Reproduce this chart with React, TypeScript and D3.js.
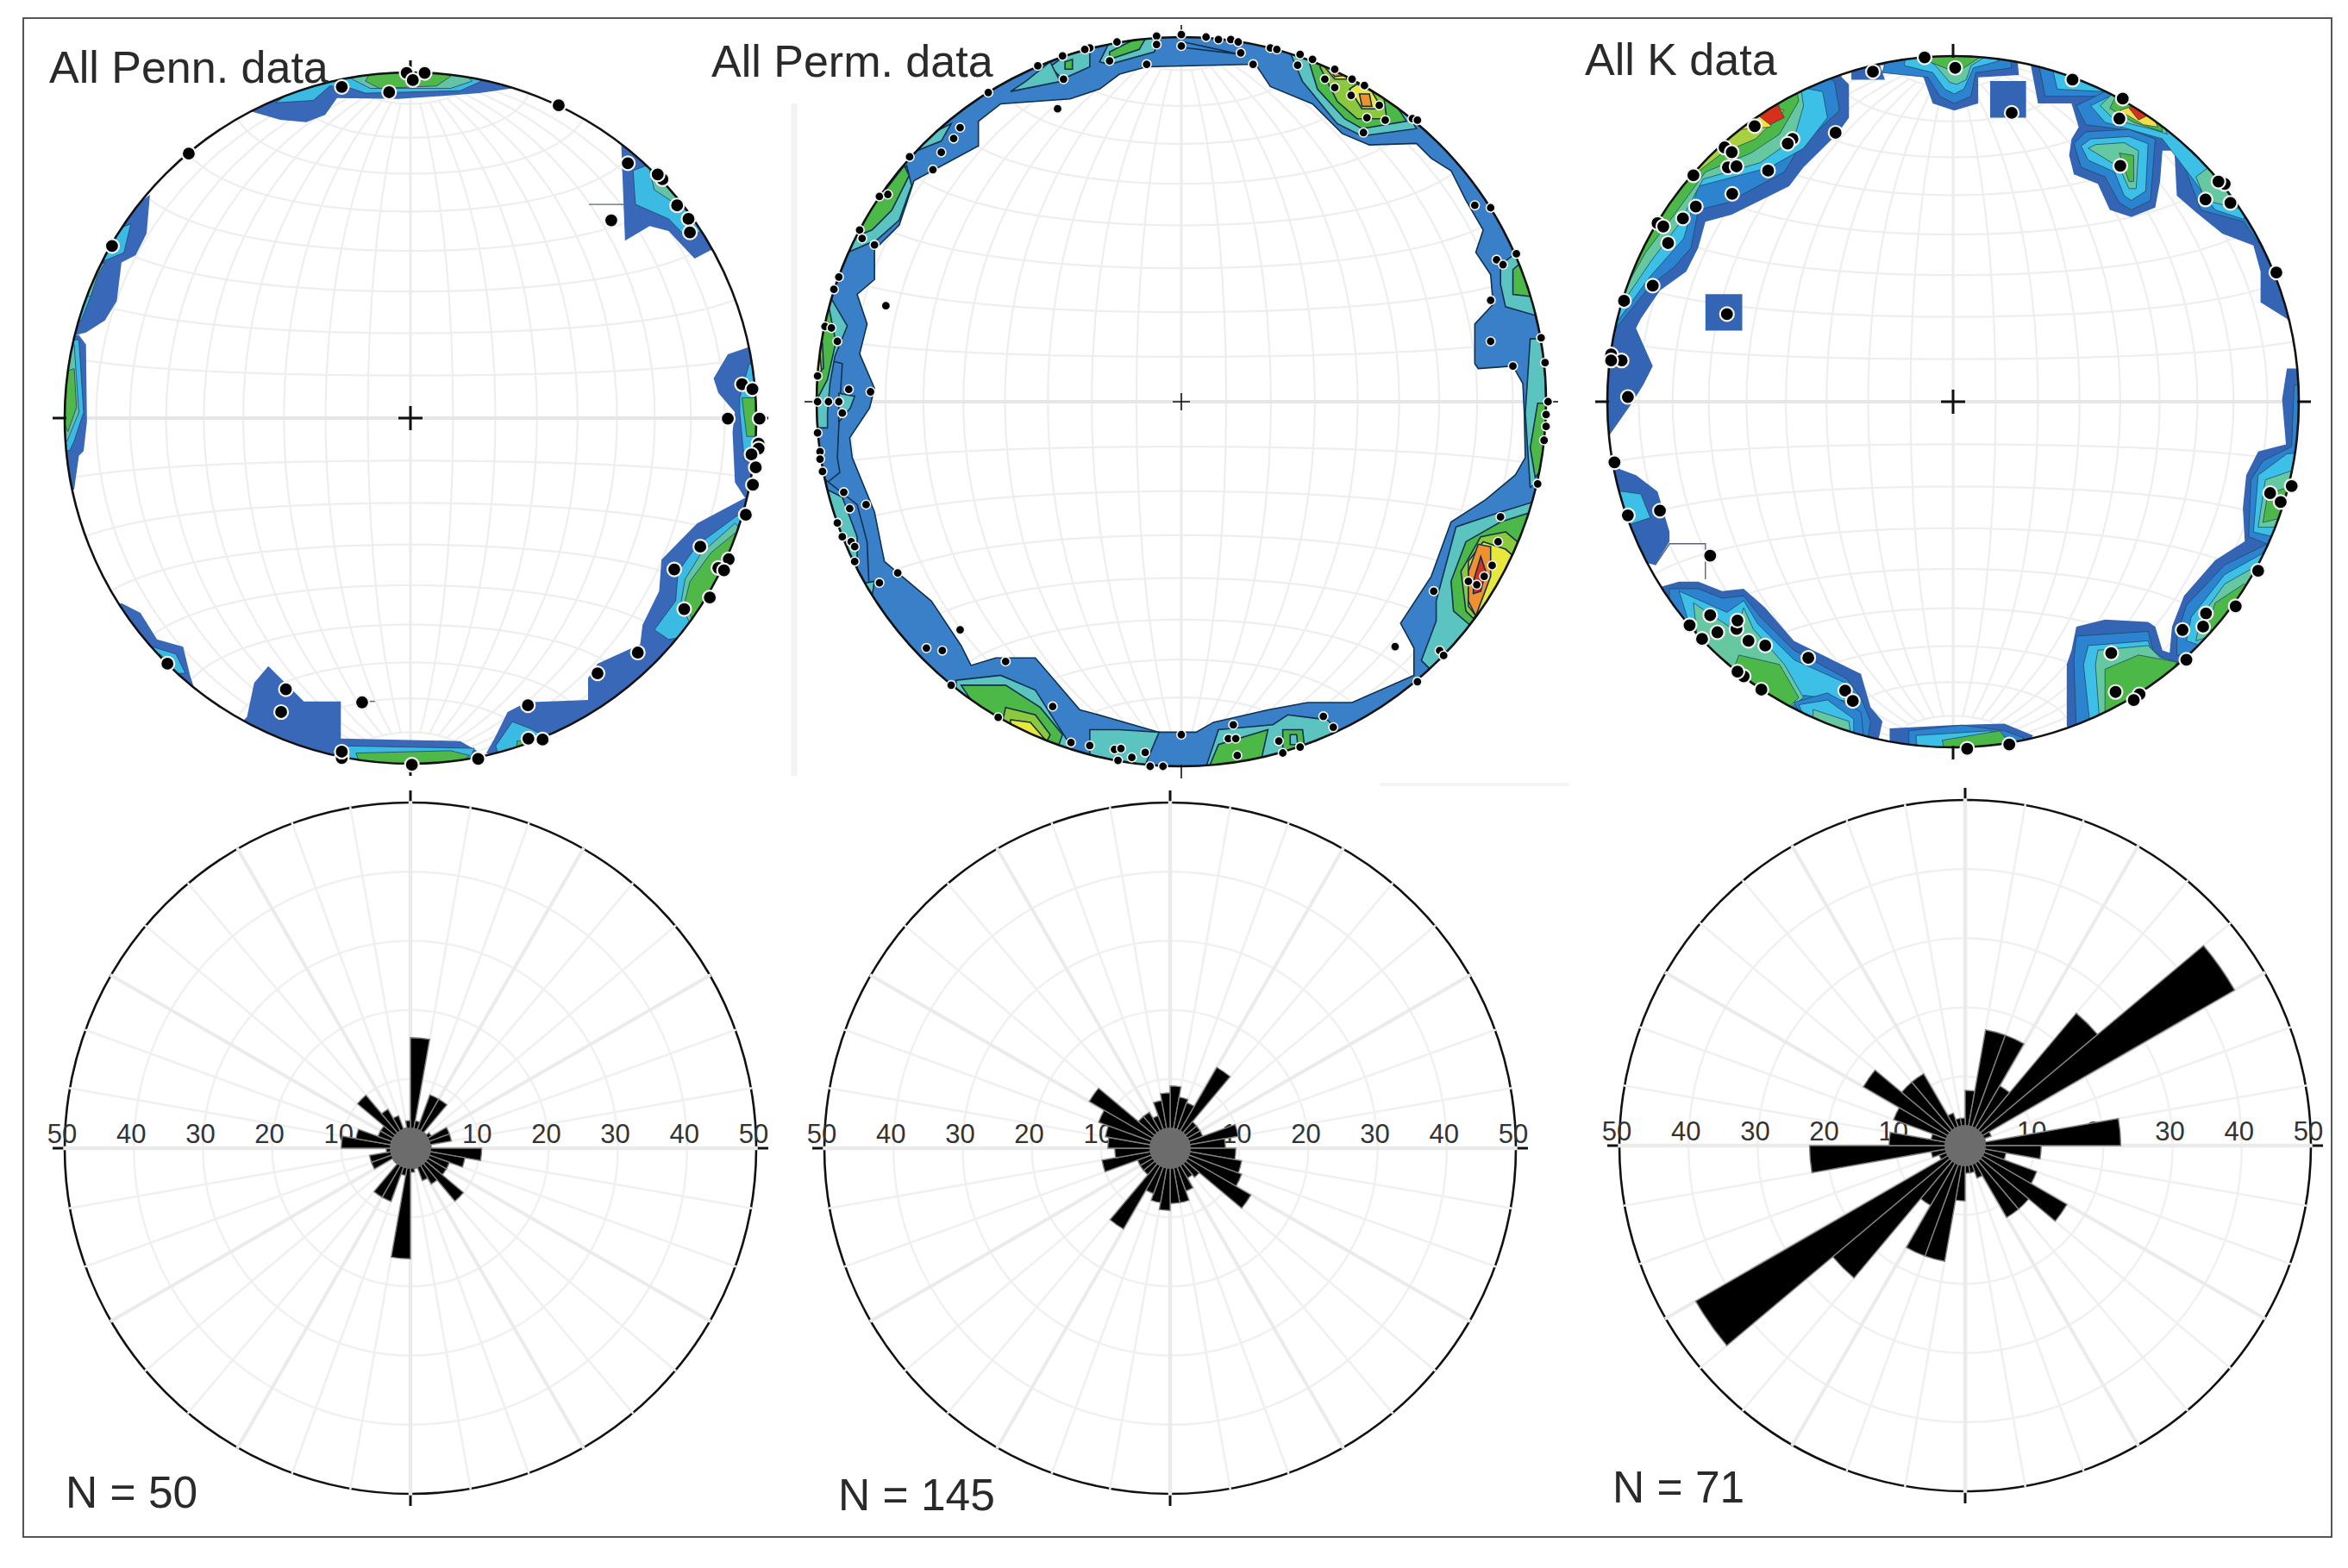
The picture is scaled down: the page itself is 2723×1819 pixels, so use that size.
import React from "react";
import * as d3 from "d3";

type Pt = [number, number];
type Contour = [number, Pt[]];

// ---------- Rose diagrams: percent per 10 degree bin, azimuth 0..350 ----------
const binAzimuths = d3.range(0, 360, 10);
const rosePenn = [16, 4, 8.2, 8.2, 3, 3.5, 6, 6, 3, 10.3, 8, 6, 6, 10, 6, 5, 3, 3.5, 16, 4, 8.2, 8.2, 3, 3, 6, 6, 3.5, 10, 8, 5, 5, 10, 6.5, 5, 3, 4];
const rosePerm = [9, 7.5, 7, 13.5, 5, 5, 5, 10, 8, 9.5, 10.5, 11, 13.5, 5.5, 5, 6.6, 8, 8, 9, 8, 7, 13.5, 5, 5, 5, 10, 8, 9, 9.5, 11, 13.5, 6, 6, 5, 7, 8];
const roseK = [8, 17, 17, 10, 25, 45, 4, 3, 22.5, 11, 6, 11, 17, 12, 12, 5, 4, 4, 8, 17, 17, 10, 25, 45, 4, 5, 22.5, 11, 5, 11, 17, 12, 12, 5, 4, 4];
const roseTicks = [10, 20, 30, 40, 50];

// ---------- Stereonet poles, digitised in net units ----------
const polesPenn: Pt[] = [[787,98],[825,98],[800,113],[750,138],[650,127],[1108,165],[327,265],[1254,285],[1327,318],[1317,308],[1358,372],[1382,400],[1385,428],[1219,403],[165,456],[1495,742],[1517,752],[1465,813],[1532,813],[1530,865],[1530,875],[1515,887],[1524,914],[1518,950],[1503,1012],[1407,1078],[1352,1125],[1467,1104],[1445,1122],[1457,1127],[1427,1183],[1373,1207],[1275,1297],[1190,1340],[1043,1406],[1044,1475],[1074,1477],[938,1517],[798,1529],[650,1515],[650,1502],[693,1400],[532,1373],[522,1420],[282,1320]];
const polesPerm: Pt[] = [[785,35],[785,58],[735,38],[735,55],[835,40],[860,45],[885,45],[900,50],[905,72],[965,62],[978,65],[655,50],[640,88],[715,95],[600,62],[590,65],[545,78],[495,98],[547,125],[395,152],[535,185],[930,95],[1025,75],[1020,97],[1050,85],[1075,125],[1095,105],[1095,142],[1130,125],[1155,138],[1128,158],[1185,178],[1160,203],[1197,208],[1153,233],[1252,205],[1262,208],[338,223],[325,245],[300,273],[236,282],[283,308],[175,362],[192,358],[135,430],[140,447],[165,460],[93,525],[83,550],[188,583],[65,625],[78,628],[90,655],[50,725],[113,752],[157,757],[50,777],[72,777],[93,777],[100,800],[50,840],[55,878],[55,893],[60,918],[103,960],[115,993],[148,985],[90,1022],[100,1050],[118,1060],[125,1070],[125,1100],[175,1143],[212,1123],[338,1238],[270,1275],[302,1280],[320,1350],[430,1302],[525,1393],[415,1415],[562,1466],[600,1472],[650,1480],[663,1478],[657,1502],[685,1496],[712,1486],[722,1514],[748,1514],[785,1450],[880,1458],[895,1458],[890,1430],[898,1492],[982,1463],[990,1487],[1025,1475],[1072,1413],[1092,1435],[1217,1272],[1262,1343],[1307,1280],[1315,1290],[1295,1160],[1365,1140],[1382,1147],[1397,1130],[1413,1108],[1425,1060],[1430,1010],[1505,943],[1518,855],[1522,827],[1522,803],[1526,777],[1455,705],[1410,655],[1520,698],[1512,648],[1410,572],[1462,478],[1422,490],[1435,500],[1410,385],[1378,380]];
const polesK: Pt[] = [[723,68],[787,90],[615,98],[1032,115],[1137,155],[1130,197],[905,185],[1132,297],[537,227],[368,213],[447,240],[437,250],[305,258],[320,268],[312,300],[330,298],[396,307],[240,317],[321,356],[245,383],[218,408],[165,418],[177,425],[187,460],[155,550],[95,582],[68,695],[90,708],[68,708],[103,785],[310,610],[1350,335],[1337,330],[1310,368],[1362,375],[1458,522],[75,923],[170,1025],[103,1035],[275,1120],[1420,1152],[1373,1227],[1311,1242],[1490,973],[1445,988],[1467,1007],[1305,1270],[1262,1277],[1270,1340],[1113,1326],[1122,1408],[1172,1413],[1160,1425],[812,1528],[900,1519],[275,1246],[232,1267],[258,1296],[290,1282],[330,1275],[332,1257],[355,1300],[390,1310],[480,1336],[345,1375],[332,1365],[382,1403],[557,1405],[573,1427]];

// ---------- Contour level colours ----------
const palettePenn = ["#3a68b8", "#3bbbe4", "#62c4a4", "#4fb848"];
const palettePerm = ["#3a80c8", "#5cc4c0", "#4cb848", "#8cc83c", "#e8e83c", "#f09030", "#d83020"];
const paletteK = ["#3464b4", "#2c84d0", "#3cc0e8", "#66c8a0", "#4cb848", "#a8d040", "#f0e040", "#f08030", "#d83018"];

// ---------- Contour rings, digitised in net units: [level, ring] ----------
const contoursPenn: Contour[] = [
  [0,[[460,178],[520,195],[575,200],[615,185],[640,150],[770,152],[830,148],[940,140],[1010,130],[950,70],[800,50],[650,70],[520,110]]],
  [1,[[510,160],[590,155],[625,125],[670,130],[700,140],[900,135],[945,115],[900,70],[700,70],[600,100]]],
  [2,[[670,110],[710,130],[880,130],[925,115],[880,70],[700,70]]],
  [3,[[700,115],[730,130],[850,125],[880,105],[800,70],[720,80]]],
  [0,[[1240,245],[1248,445],[1300,415],[1340,425],[1395,482],[1428,465],[1470,460],[1360,300],[1260,220]]],
  [1,[[1265,300],[1270,370],[1340,400],[1370,430],[1400,430],[1420,420],[1320,280]]],
  [2,[[1300,300],[1310,340],[1380,385],[1400,385],[1330,290]]],
  [0,[[245,350],[238,430],[215,475],[185,490],[175,570],[150,610],[110,635],[90,640],[50,640],[100,470],[190,390]]],
  [1,[[205,410],[190,470],[140,490],[120,560],[100,610],[70,600],[120,470],[180,420]]],
  [2,[[150,490],[135,515],[120,560],[100,560],[125,500]]],
  [0,[[95,640],[110,660],[112,820],[105,880],[95,890],[85,960],[40,960],[40,640]]],
  [1,[[95,650],[105,800],[85,860],[75,880],[40,870],[40,650]]],
  [2,[[85,660],[95,800],[70,860],[40,840],[40,700]]],
  [3,[[85,710],[90,790],[72,840],[50,800],[50,720]]],
  [0,[[1465,680],[1510,665],[1560,680],[1560,1000],[1500,975],[1480,945],[1475,840],[1480,800],[1445,760],[1435,730]]],
  [1,[[1510,700],[1490,770],[1490,800],[1500,900],[1560,900],[1560,700]]],
  [3,[[1495,770],[1505,850],[1560,850],[1560,770]]],
  [0,[[1505,975],[1400,1030],[1325,1105],[1320,1170],[1285,1240],[1280,1280],[1190,1320],[1170,1350],[1170,1395],[1040,1400],[1000,1420],[975,1470],[955,1505],[1050,1540],[1300,1400],[1560,1050]]],
  [1,[[1490,1010],[1400,1075],[1360,1130],[1355,1190],[1310,1250],[1340,1270],[1400,1260],[1560,1060]]],
  [2,[[1480,1030],[1410,1090],[1375,1145],[1365,1200],[1385,1235],[1560,1090]]],
  [3,[[1480,1050],[1430,1090],[1385,1150],[1375,1190],[1390,1230],[1560,1140]]],
  [1,[[975,1490],[1010,1440],[1050,1455],[1080,1470],[1050,1540],[990,1540]]],
  [3,[[1020,1480],[1050,1480],[1040,1540],[1020,1540]]],
  [0,[[495,1325],[570,1398],[648,1398],[648,1475],[900,1480],[935,1500],[900,1560],[700,1560],[430,1450],[450,1430],[465,1360]]],
  [1,[[650,1490],[930,1495],[900,1560],[660,1560]]],
  [3,[[680,1505],[880,1500],[920,1510],[860,1560],[700,1560]]],
  [0,[[185,1195],[225,1215],[260,1270],[315,1285],[330,1345],[340,1375],[260,1340],[150,1210]]],
  [1,[[250,1285],[300,1300],[320,1340],[270,1340]]],
  [3,[[265,1300],[285,1315],[265,1330]]],
];

const permOuterBand: Pt[] = [[715,100],[935,95],[965,140],[1050,175],[1110,235],[1165,258],[1260,255],[1290,285],[1330,310],[1360,370],[1395,430],[1380,475],[1410,520],[1415,580],[1378,620],[1378,700],[1385,710],[1455,705],[1475,740],[1478,800],[1480,890],[1460,925],[1400,975],[1330,1020],[1290,1130],[1228,1225],[1255,1275],[1255,1330],[1130,1385],[1040,1385],[960,1400],[850,1425],[815,1445],[740,1445],[600,1405],[580,1400],[490,1295],[410,1295],[360,1310],[340,1270],[280,1180],[185,1100],[165,1000],[120,890],[115,850],[155,790],[165,750],[135,680],[150,620],[130,560],[165,530],[165,470],[215,420],[245,330],[375,260],[375,210],[420,175],[560,165],[620,145],[660,115]];

const contoursPerm: Contour[] = [
  [0,[[20,680],[100,700],[95,780],[90,890],[95,920],[70,940],[20,900]]],
  [0,[[60,930],[130,985],[150,1060],[155,1170],[110,1100]]],
  [0,[[790,50],[890,72],[905,75],[780,60]]],
  [1,[[1000,60],[1030,130],[1100,215],[1150,240],[1260,225],[1200,120],[1100,60]]],
  [2,[[1040,80],[1060,145],[1115,205],[1150,225],[1240,210],[1180,120],[1080,70]]],
  [3,[[1065,100],[1100,170],[1140,205],[1200,205],[1190,130],[1090,80]]],
  [4,[[1125,145],[1150,185],[1190,185],[1170,150],[1140,135]]],
  [4,[[1070,95],[1095,125],[1120,125],[1110,90]]],
  [5,[[1145,155],[1150,180],[1170,180],[1165,155]]],
  [5,[[1075,90],[1095,120],[1110,118],[1110,90]]],
  [1,[[1560,960],[1430,1000],[1340,1030],[1300,1180],[1300,1220],[1270,1300],[1310,1340],[1560,1100]]],
  [2,[[1540,985],[1430,1020],[1360,1060],[1330,1140],[1335,1200],[1370,1230],[1540,1100]]],
  [3,[[1440,1040],[1390,1050],[1350,1120],[1360,1200],[1375,1215],[1500,1090]]],
  [4,[[1440,1075],[1395,1060],[1365,1100],[1365,1190],[1380,1210],[1480,1110]]],
  [5,[[1410,1070],[1385,1065],[1365,1120],[1365,1180],[1380,1210],[1410,1130]]],
  [6,[[1390,1090],[1375,1140],[1375,1165],[1390,1160],[1400,1120]]],
  [1,[[330,1340],[420,1330],[490,1360],[560,1470],[500,1540],[330,1420]]],
  [2,[[340,1350],[430,1350],[500,1395],[545,1450],[530,1490],[400,1440]]],
  [3,[[430,1395],[490,1410],[520,1450],[500,1490],[420,1440]]],
  [4,[[440,1420],[480,1425],[510,1460],[500,1480],[440,1440]]],
  [1,[[600,1440],[660,1440],[740,1445],[700,1540],[600,1500]]],
  [1,[[830,1530],[860,1440],[970,1430],[1000,1410],[1080,1420],[1100,1440],[1000,1530]]],
  [2,[[835,1530],[860,1470],[960,1440],[940,1530]]],
  [2,[[990,1440],[1030,1440],[1040,1530],[990,1530]]],
  [1,[[1005,1450],[1018,1450],[1020,1470],[1005,1470]]],
  [1,[[520,100],[600,40],[600,100],[545,125]]],
  [1,[[440,150],[470,130],[520,90],[540,130]]],
  [2,[[550,90],[565,85],[565,105],[550,105]]],
  [1,[[620,90],[640,50],[720,20],[740,50],[730,70],[640,95]]],
  [2,[[640,70],[720,30],[700,65],[640,85]]],
  [1,[[135,420],[230,300],[240,340],[215,410],[170,450],[100,480]]],
  [2,[[140,410],[225,300],[235,320],[200,390],[160,430],[110,450]]],
  [1,[[250,270],[290,230],[320,215],[300,250]]],
  [1,[[30,560],[78,569],[110,624],[85,685],[75,740],[70,800],[70,830],[20,830],[20,650]]],
  [2,[[20,600],[73,587],[87,656],[70,732],[50,770],[20,760]]],
  [3,[[20,680],[60,660],[62,710],[20,730]]],
  [4,[[20,690],[55,680],[58,715],[20,725]]],
  [1,[[93,760],[125,766],[116,790],[93,818]]],
  [1,[[60,950],[100,970],[130,1050],[130,1110],[80,1030]]],
  [1,[[110,1150],[165,1140],[160,1170],[120,1180]]],
  [1,[[1430,500],[1470,470],[1560,620],[1440,585],[1430,540]]],
  [2,[[1455,510],[1490,480],[1540,570],[1455,560]]],
  [1,[[1490,650],[1550,650],[1560,900],[1490,950],[1480,800]]],
  [2,[[1505,780],[1550,780],[1550,870],[1500,930],[1490,870]]],
];

const contoursK: Contour[] = [
  [0,[[550,110],[565,125],[565,195],[540,230],[470,300],[440,340],[320,400],[265,415],[250,470],[225,520],[170,560],[130,620],[120,640],[155,720],[135,760],[110,800],[65,865],[20,865],[20,600],[40,420],[200,230],[350,110],[480,70],[540,80]]],
  [0,[[570,115],[640,115],[625,70],[570,85]]],
  [1,[[535,120],[545,180],[460,260],[430,310],[310,375],[250,390],[235,470],[200,510],[150,550],[110,600],[70,650],[20,640],[40,420],[200,230],[350,110],[480,75]]],
  [2,[[510,140],[520,195],[470,260],[400,300],[250,340],[220,450],[150,530],[85,620],[20,600],[40,420],[200,230],[350,110]]],
  [3,[[470,170],[450,240],[380,290],[260,325],[210,420],[150,500],[90,590],[20,580],[40,420],[200,230],[360,110],[460,100]]],
  [4,[[460,160],[420,230],[360,270],[265,310],[200,400],[140,480],[95,560],[30,550],[50,420],[200,230],[360,110],[450,110]]],
  [5,[[430,180],[370,240],[300,270],[210,340],[150,440],[100,520],[90,420],[220,250],[340,150]]],
  [6,[[420,170],[400,215],[340,220],[300,240],[320,170],[380,140]]],
  [8,[[370,190],[415,165],[430,195],[400,210],[350,170]]],
  [0,[[625,85],[710,80],[740,165],[785,180],[835,165],[835,110],[920,105],[915,50],[785,30],[640,40]]],
  [1,[[635,100],[730,110],[755,150],[785,165],[820,150],[830,100],[905,90],[900,40],[785,30],[650,40]]],
  [2,[[680,85],[740,100],[765,135],[785,145],[805,135],[825,90],[880,75],[785,30],[690,40]]],
  [3,[[750,90],[775,120],[790,125],[810,115],[820,85],[860,60],[785,30],[710,50]]],
  [4,[[715,70],[790,100],[850,60],[785,30]]],
  [0,[[860,118],[935,118],[935,195],[860,195]]],
  [0,[[265,568],[342,568],[342,645],[265,645]]],
  [0,[[945,85],[960,165],[1030,165],[1045,215],[1030,240],[1025,275],[1035,315],[1085,335],[1110,390],[1155,405],[1205,385],[1215,330],[1220,265],[1245,265],[1250,360],[1290,395],[1345,440],[1410,465],[1425,520],[1425,585],[1480,620],[1500,650],[1560,650],[1560,300],[1300,80],[1100,40],[950,40]]],
  [1,[[960,75],[975,150],[1110,150],[1100,50],[960,40]]],
  [2,[[990,90],[1000,135],[1095,140],[1050,70]]],
  [3,[[1030,110],[1100,140],[1060,90]]],
  [1,[[1040,170],[1060,210],[1210,230],[1250,255],[1300,390],[1390,415],[1420,460],[1470,460],[1350,290],[1180,130],[1100,140]]],
  [2,[[1070,170],[1100,205],[1220,240],[1280,320],[1330,390],[1390,410],[1400,370],[1340,290],[1180,140],[1110,150]]],
  [3,[[1090,170],[1120,200],[1200,220],[1230,230],[1210,170],[1130,130]]],
  [4,[[1110,175],[1160,205],[1220,225],[1210,170],[1130,135]]],
  [6,[[1130,180],[1180,210],[1210,215],[1190,160]]],
  [8,[[1150,175],[1170,200],[1190,190],[1170,160]]],
  [3,[[1290,320],[1310,370],[1390,390],[1330,290]]],
  [1,[[1035,250],[1050,300],[1100,320],[1130,375],[1155,390],[1195,370],[1205,240],[1150,220],[1060,225]]],
  [2,[[1050,255],[1065,285],[1120,310],[1140,360],[1155,370],[1185,350],[1190,250],[1150,235],[1070,240]]],
  [3,[[1065,260],[1130,300],[1150,345],[1165,345],[1170,265],[1140,248],[1080,252]]],
  [4,[[1130,270],[1150,330],[1160,330],[1160,275]]],
  [2,[[1455,530],[1480,600],[1520,640],[1520,590],[1470,530]]],
  [0,[[1480,725],[1470,790],[1478,885],[1420,900],[1395,950],[1388,1020],[1392,1090],[1330,1130],[1265,1205],[1240,1270],[1235,1325],[1220,1320],[1205,1270],[1190,1260],[1100,1255],[1040,1270],[1030,1320],[1020,1350],[1020,1480],[1100,1560],[1300,1480],[1560,1100],[1560,725]]],
  [1,[[1495,760],[1490,890],[1430,920],[1405,960],[1400,1080],[1450,1100],[1560,950],[1560,760]]],
  [1,[[1440,1095],[1350,1140],[1270,1225],[1250,1290],[1250,1330],[1290,1330],[1420,1200],[1480,1120]]],
  [1,[[1040,1290],[1190,1280],[1200,1320],[1240,1350],[1220,1410],[1160,1480],[1040,1490],[1035,1340]]],
  [2,[[1420,950],[1410,1070],[1450,1080],[1560,950],[1560,900],[1480,905]]],
  [2,[[1430,1115],[1350,1160],[1280,1250],[1270,1300],[1300,1310],[1430,1190],[1470,1130]]],
  [2,[[1065,1310],[1190,1300],[1200,1330],[1240,1350],[1220,1420],[1160,1480],[1070,1490],[1055,1350]]],
  [3,[[1435,960],[1420,1060],[1460,1060],[1530,970],[1520,930]]],
  [3,[[1420,1140],[1350,1180],[1300,1250],[1290,1300],[1320,1290],[1420,1190]]],
  [3,[[1085,1320],[1190,1310],[1215,1335],[1250,1345],[1220,1420],[1160,1470],[1090,1490],[1080,1350]]],
  [4,[[1440,990],[1430,1050],[1470,1040],[1530,960]]],
  [4,[[1390,1180],[1330,1220],[1310,1280],[1350,1270],[1420,1190]]],
  [4,[[1100,1360],[1170,1330],[1250,1345],[1220,1410],[1160,1450],[1100,1450]]],
  [6,[[1200,1390],[1235,1365],[1240,1400],[1190,1440]]],
  [0,[[175,1185],[210,1175],[250,1175],[300,1195],[345,1190],[390,1230],[450,1300],[530,1340],[590,1370],[610,1440],[635,1470],[620,1540],[380,1420],[150,1200]]],
  [1,[[190,1190],[250,1190],[300,1210],[345,1205],[380,1250],[450,1320],[560,1380],[590,1420],[610,1470],[600,1540],[400,1440],[190,1230]]],
  [2,[[210,1195],[310,1240],[345,1215],[375,1265],[450,1340],[560,1390],[580,1430],[470,1415],[440,1440],[230,1260]]],
  [3,[[240,1220],[330,1280],[345,1230],[365,1275],[430,1350],[470,1420],[430,1450],[250,1310]]],
  [4,[[335,1330],[420,1350],[460,1420],[430,1450],[320,1370]]],
  [1,[[450,1430],[520,1410],[590,1450],[600,1540],[500,1520]]],
  [2,[[460,1435],[520,1425],[575,1465],[575,1500],[480,1480]]],
  [3,[[490,1445],[565,1470],[570,1510],[490,1480]]],
  [0,[[40,920],[120,950],[165,985],[190,1070],[190,1090],[160,1140],[120,1130],[60,1000]]],
  [2,[[60,980],[130,990],[150,1040],[90,1060]]],
  [0,[[650,1485],[780,1478],[890,1475],[950,1500],[900,1560],[650,1560]]],
  [1,[[690,1490],[800,1478],[890,1490],[930,1505],[900,1560],[690,1560]]],
  [2,[[705,1500],[860,1490],[910,1510],[860,1560],[710,1560]]],
  [4,[[760,1510],[880,1490],[900,1515],[840,1560],[770,1560]]],
];

// Thin stray lines left by the contouring software
const strayPenn: Pt[][] = [[[1172,370],[1248,370]],[[693,1398],[720,1398]]];
const strayK: Pt[][] = [[[160,1140],[190,1095],[265,1095],[265,1170]]];

const titles = ["All Penn. data", "All Perm. data", "All K data"];
const countLabels = ["N = 50", "N = 145", "N = 71"];

const FONT = "'Liberation Sans', Arial, sans-serif";
const GRID = "#eeeeee";
const compass = [[-1, 0], [1, 0], [0, -1], [0, 1]];

function Net(p: {
  cx: number; cy: number; r: number; id: string;
  dx: [number, number]; dy: [number, number];
  band?: Pt[]; contours: Contour[]; palette: string[]; poles: Pt[];
  stray?: Pt[][]; dotR: number; halo: number; lineW: number; contourStroke: string; plus: number; plusW: number; level0Line?: boolean;
}) {
  const x = d3.scaleLinear().domain(p.dx).range([p.cx - p.r, p.cx + p.r]);
  const y = d3.scaleLinear().domain(p.dy).range([p.cy - p.r, p.cy + p.r]);
  const ring = d3.line<Pt>().x((d) => x(d[0])).y((d) => y(d[1])).curve(d3.curveLinearClosed);
  const open = d3.line<Pt>().x((d) => x(d[0])).y((d) => y(d[1]));
  const proj = d3.geoAzimuthalEqualArea().rotate([0, 0]).scale(p.r / Math.SQRT2).translate([p.cx, p.cy]).clipAngle(90).precision(0.3);
  const path = d3.geoPath(proj);
  const grat = d3.geoGraticule().stepMinor([10, 10]).stepMajor([90, 360]);
  const T = p.r;
  return (
    <g>
      <defs>
        <clipPath id={p.id}><circle cx={p.cx} cy={p.cy} r={p.r} /></clipPath>
      </defs>
      <circle cx={p.cx} cy={p.cy} r={p.r} fill="#fff" />
      <path d={path(grat() as any) || ""} fill="none" stroke={GRID} strokeWidth={2.2} />
      <line x1={p.cx - T} x2={p.cx + T} y1={p.cy} y2={p.cy} stroke="#e6e6e6" strokeWidth={4} />
      <line x1={p.cx} x2={p.cx} y1={p.cy - T} y2={p.cy + T} stroke="#ececec" strokeWidth={3} />
      <g clipPath={`url(#${p.id})`}>
        {p.band && (
          <path
            d={`M${p.cx - p.r - 20},${p.cy - p.r - 20}H${p.cx + p.r + 20}V${p.cy + p.r + 20}H${p.cx - p.r - 20}Z` + ring(p.band)}
            fill={p.palette[0]} fillRule="evenodd" stroke={p.contourStroke} strokeWidth={p.lineW}
          />
        )}
        {p.contours.map(([lvl, pts], i) => (
          <path key={i} d={ring(pts) || ""} fill={p.palette[lvl]} stroke={lvl === 0 && !p.level0Line ? "none" : p.contourStroke} strokeWidth={p.lineW} />
        ))}
      </g>
      {(p.stray || []).map((s, i) => (
        <path key={i} d={open(s) || ""} fill="none" stroke="#56657f" strokeWidth={1.4} />
      ))}
      <circle cx={p.cx} cy={p.cy} r={p.r} fill="none" stroke="#111" strokeWidth={2.6} />
      {compass.map(([a, b], i) => (
        <line key={i} x1={p.cx + a * (T - 2)} y1={p.cy + b * (T - 2)} x2={p.cx + a * (T + 14)} y2={p.cy + b * (T + 14)} stroke="#111" strokeWidth={p.plusW} />
      ))}
      <path d={`M${p.cx - p.plus},${p.cy}H${p.cx + p.plus}M${p.cx},${p.cy - p.plus}V${p.cy + p.plus}`} stroke="#111" strokeWidth={p.plusW} fill="none" />
      {p.poles.map((d, i) => (
        <circle key={i} cx={x(d[0])} cy={y(d[1])} r={p.dotR} fill="#000" stroke="#f4f4f4" strokeWidth={p.halo} />
      ))}
    </g>
  );
}

function Rose(p: { cx: number; cy: number; r: number; values: number[] }) {
  const rs = d3.scaleLinear().domain([0, 50]).range([0, p.r]);
  const az = d3.scaleLinear().domain([0, 360]).range([0, 2 * Math.PI]);
  const arc = d3.arc<number>()
    .innerRadius(0)
    .outerRadius((d) => rs(p.values[d]))
    .startAngle((d) => az(binAzimuths[d]))
    .endAngle((d) => az(binAzimuths[d] + 10));
  return (
    <g>
      <circle cx={p.cx} cy={p.cy} r={p.r} fill="none" stroke="#111" strokeWidth={2.6} />
      {roseTicks.slice(0, 4).map((t) => (
        <circle key={t} cx={p.cx} cy={p.cy} r={rs(t)} fill="none" stroke="#f0f0f0" strokeWidth={2.4} />
      ))}
      {binAzimuths.map((a) => {
        const major = a % 30 === 0;
        const rad = az(a);
        return (
          <line key={a}
            x1={p.cx} y1={p.cy}
            x2={p.cx + (p.r + 1) * Math.sin(rad)} y2={p.cy - (p.r + 1) * Math.cos(rad)}
            stroke={major ? "#ebebeb" : "#f0f0f0"} strokeWidth={major ? (a % 90 === 0 ? 4.5 : 4) : 2.6} />
        );
      })}
      {compass.map(([a, b], i) => (
        <line key={i} x1={p.cx + a * (p.r + 2)} y1={p.cy + b * (p.r + 2)} x2={p.cx + a * (p.r + 14)} y2={p.cy + b * (p.r + 14)} stroke="#111" strokeWidth={3} />
      ))}
      <g transform={`translate(${p.cx},${p.cy})`}>
        {roseTicks.flatMap((t) => [-1, 1].map((s) => (
          <text key={`${t}${s}`} x={s * rs(t) - 3} y={-6} textAnchor="middle" fontFamily={FONT} fontSize={31} fill="#333">{t}</text>
        )))}
        {p.values.map((_, i) => (
          <path key={i} d={arc(i) || ""} fill="#000" stroke="#808080" strokeWidth={1.4} />
        ))}
        <circle r={24} fill="#6c6c6c" />
      </g>
    </g>
  );
}

export default function App() {
  const labelStyle = { fontFamily: FONT, fill: "#2a2a2a" } as const;
  return (
    <svg width={2723} height={1819} viewBox="0 0 2723 1819" style={{ position: "absolute", left: 0, top: 0, background: "#fff" }}>
      <rect x={0} y={0} width={2723} height={1819} fill="#fff" />
      <rect x={27} y={21} width={2677} height={1762} fill="none" stroke="#444" strokeWidth={1.8} />
      <line x1={921} x2={921} y1={120} y2={900} stroke="#f3f3f3" strokeWidth={7} />
      <line x1={1600} x2={1820} y1={910} y2={910} stroke="#f4f4f4" strokeWidth={4} />

      <Net id="n1" cx={476} cy={485} r={401} dx={[65, 1525]} dy={[97, 1527]} contours={contoursPenn} palette={palettePenn} poles={polesPenn} stray={strayPenn} dotR={8} halo={2.2} lineW={0.8} contourStroke="#24406a" plus={14} plusW={3} />
      <Net id="n2" cx={1370} cy={466} r={423} dx={[48, 1522]} dy={[40, 1514]} band={permOuterBand} contours={contoursPerm} palette={palettePerm} poles={polesPerm} dotR={5.2} halo={1.6} lineW={1.6} contourStroke="#10304f" plus={10} plusW={1.6} level0Line />
      <Net id="n3" cx={2265} cy={466} r={401} dx={[60, 1505]} dy={[65, 1525]} contours={contoursK} palette={paletteK} poles={polesK} stray={strayK} dotR={8} halo={2.2} lineW={0.8} contourStroke="#1f4a66" plus={14} plusW={3} />

      <Rose cx={476} cy={1332} r={401} values={rosePenn} />
      <Rose cx={1357} cy={1332} r={401} values={rosePerm} />
      <Rose cx={2279} cy={1329} r={401} values={roseK} />

      <text x={57} y={96} fontSize={52} {...labelStyle}>{titles[0]}</text>
      <text x={825} y={89} fontSize={52} {...labelStyle}>{titles[1]}</text>
      <text x={1838} y={87} fontSize={52} {...labelStyle}>{titles[2]}</text>
      <text x={76} y={1749} fontSize={51.5} {...labelStyle}>{countLabels[0]}</text>
      <text x={972} y={1752} fontSize={51.5} {...labelStyle}>{countLabels[1]}</text>
      <text x={1870} y={1743} fontSize={51.5} {...labelStyle}>{countLabels[2]}</text>
    </svg>
  );
}
